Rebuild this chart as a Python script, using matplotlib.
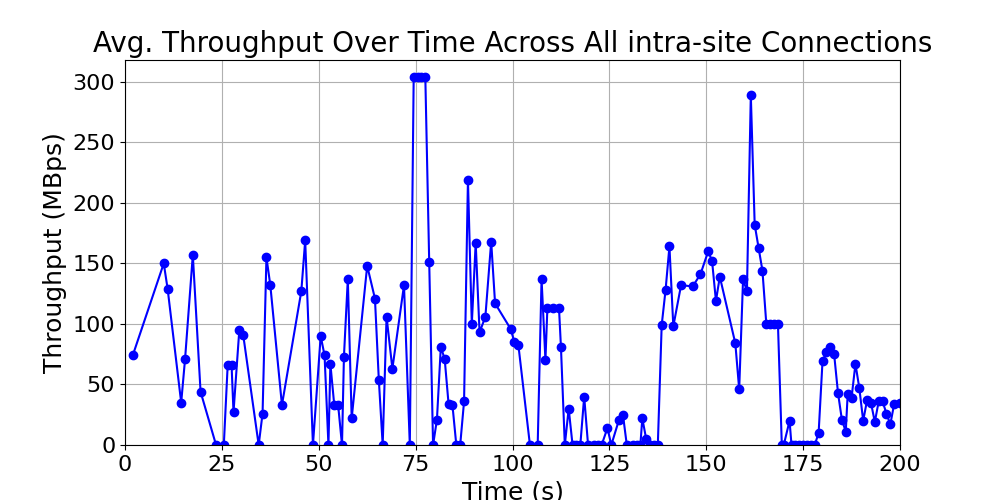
import matplotlib
matplotlib.use("Agg")
import matplotlib.pyplot as plt

# time (s) and average throughput (MBps)
times = [2,10,11,14.5,15.5,17.5,19.5,23.5,25.5,26.5,27.5,28,29.5,30.5,34.5,35.5,36.5,37.5,40.5,45.5,
         46.5,48.5,50.5,51.5,52.5,53,54,55,56,56.5,57.5,58.5,62.5,64.5,65.5,66.5,67.5,69,72,73.5,
         74.5,75.5,76.5,77.5,78.5,79.5,80.5,81.5,82.5,83.5,84.5,85.5,86.5,87.5,88.5,89.5,90.5,91.5,93,94.5,
         95.5,99.5,100.5,101.5,104.5,106.5,107.5,108.5,109,110.5,112,112.5,113.5,114.5,115.5,116.5,117.5,118.5,119.5,121,
         122,123,124.5,125.5,127.5,128.5,129.5,131,132,133,133.5,134.5,135.5,136.5,137.5,138.5,139.5,140.5,141.5,143.5,
         146.5,148.5,150.5,151.5,152.5,153.5,157.5,158.5,159.5,160.5,161.5,162.5,163.5,164.5,165.5,166.5,167.5,168.5,169.5,170,
         171.5,172,173,174,175,176,177,178,179,180,181,182,183,184,185,186,186.5,187.5,188.5,189.5,
         190.5,191.5,192.5,193.5,194.5,195.5,196.5,197.5,198.5,200]
throughput = [74,150,129,35,71,157,44,0,0,66,66,27,95,91,0,26,155,132,33,127,
              169,0,90,74,0,67,33,33,0,73,137,22,148,121,54,0,106,63,132,0,
              304,304,304,304,151,0,21,81,71,34,33,0,0,36,219,100,167,93,106,168,
              117,96,85,83,0,0,137,70,113,113,113,81,0,30,0,0,0,40,0,0,
              0,0,14,0,21,25,0,0,0,0,22,5,0,0,0,99,128,164,98,132,
              131,141,160,152,119,139,84,46,137,127,289,182,163,144,100,100,100,100,0,0,
              20,0,0,0,0,0,0,0,10,69,77,81,75,43,21,11,42,39,67,47,
              20,37,35,19,36,36,26,17,34,35]

fig, ax = plt.subplots(figsize=(10, 5), dpi=100)
ax.plot(times, throughput, "o-", color="blue", markersize=6)
ax.set_xlim(0, 200)
ax.set_ylim(0, 318)
ax.set_title("Avg. Throughput Over Time Across All intra-site Connections", fontsize=20)
ax.set_xlabel("Time (s)", fontsize=18)
ax.set_ylabel("Throughput (MBps)", fontsize=18)
ax.tick_params(labelsize=16)
ax.grid(True)
fig.subplots_adjust(left=0.125, right=0.9, top=0.88, bottom=0.11)
fig.savefig("out.png")
